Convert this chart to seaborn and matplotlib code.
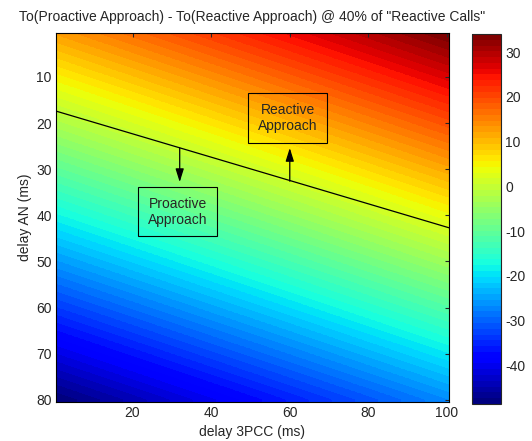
import matplotlib
matplotlib.use("Agg")
import matplotlib.pyplot as plt
import numpy as np
import seaborn as sns

# readings of the field, every 10 ms (rows: delay AN 0..80, cols: delay 3PCC 0..100)
delay_3pcc = [0, 10, 20, 30, 40, 50, 60, 70, 80, 90, 100]
delay_an = [0, 10, 20, 30, 40, 50, 60, 70, 80]
to_diff = [
    [12.9, 15.1, 17.3, 19.5, 21.7, 23.9, 26.1, 28.3, 30.5, 32.7, 34.9],
    [5.2, 7.4, 9.6, 11.8, 14.0, 16.2, 18.4, 20.6, 22.8, 25.0, 27.2],
    [-2.5, -0.3, 1.9, 4.1, 6.3, 8.5, 10.7, 12.9, 15.1, 17.3, 19.5],
    [-10.2, -8.0, -5.8, -3.6, -1.4, 0.8, 3.0, 5.2, 7.4, 9.6, 11.8],
    [-17.9, -15.7, -13.5, -11.3, -9.1, -6.9, -4.7, -2.5, -0.3, 1.9, 4.1],
    [-25.6, -23.4, -21.2, -19.0, -16.8, -14.6, -12.4, -10.2, -8.0, -5.8, -3.6],
    [-33.3, -31.1, -28.9, -26.7, -24.5, -22.3, -20.1, -17.9, -15.7, -13.5, -11.3],
    [-41.0, -38.8, -36.6, -34.4, -32.2, -30.0, -27.8, -25.6, -23.4, -21.2, -19.0],
    [-48.7, -46.5, -44.3, -42.1, -39.9, -37.7, -35.5, -33.3, -31.1, -28.9, -26.7],
]
color_limits = [-48.7, 34.1]

# frontier between both approaches
frontier_x = [0.5, 100.5]
frontier_y = [17.4, 42.7]

# arrows (x, start y, end y) and region labels (x, y, text)
arrows = [(32, 25.4, 32.8), (60, 32.6, 25.4)]
labels = [(59.5, 18.9, "Reactive\nApproach"), (31.5, 39.2, "Proactive\nApproach")]

sns.set_style("white")
plt.rcParams["font.family"] = ["Liberation Sans", "DejaVu Sans"]
plt.rcParams["axes.unicode_minus"] = False

fig = plt.figure(figsize=(5.32, 4.41), dpi=100)
ax = fig.add_axes([0.105, 0.088, 0.739, 0.837])
cax = fig.add_axes([0.887, 0.084, 0.0545, 0.839])

cmap = matplotlib.colormaps["jet"].resampled(64)
data = np.array(to_diff)
step_x = delay_3pcc[1] - delay_3pcc[0]
step_y = delay_an[1] - delay_an[0]
im = ax.imshow(data, cmap=cmap, vmin=color_limits[0], vmax=color_limits[1],
               interpolation="bilinear", interpolation_stage="data", aspect="auto",
               extent=[delay_3pcc[0] - step_x / 2, delay_3pcc[-1] + step_x / 2,
                       delay_an[-1] + step_y / 2, delay_an[0] - step_y / 2])
ax.set_xlim(0.5, 100.5)
ax.set_ylim(80.5, 0.5)

sns.lineplot(x=frontier_x, y=frontier_y, ax=ax, color="black", linewidth=0.9)

for x, y0, y1 in arrows:
    ax.annotate("", xy=(x, y1), xytext=(x, y0),
                arrowprops=dict(arrowstyle="-|>,head_length=0.8,head_width=0.25",
                                color="black", lw=0.9, shrinkA=0, shrinkB=0))

for x, y, txt in labels:
    ax.text(x, y, txt, ha="center", va="center", fontsize=10, linespacing=1.2,
            bbox=dict(boxstyle="square,pad=0.7", fc="none", ec="black", lw=0.8))

ax.set_xticks([20, 40, 60, 80, 100])
ax.set_yticks([10, 20, 30, 40, 50, 60, 70, 80])
ax.tick_params(direction="in", length=3, width=0.8, labelsize=10,
               top=True, right=True, pad=3)
for s in ax.spines.values():
    s.set_linewidth(0.8)
    s.set_color("black")
ax.set_xlabel("delay 3PCC (ms)", fontsize=10, labelpad=3)
ax.set_ylabel("delay AN (ms)", fontsize=10, labelpad=3)
ax.set_title('To(Proactive Approach) - To(Reactive Approach) @ 40% of "Reactive Calls"',
             fontsize=10, pad=9)

cb = fig.colorbar(im, cax=cax)
cb.set_ticks([-40, -30, -20, -10, 0, 10, 20, 30])
cax.tick_params(direction="in", length=3, width=0.8, labelsize=10,
                left=True, right=True, pad=3)
cb.outline.set_linewidth(0.8)

fig.savefig("out.png", dpi=100)
